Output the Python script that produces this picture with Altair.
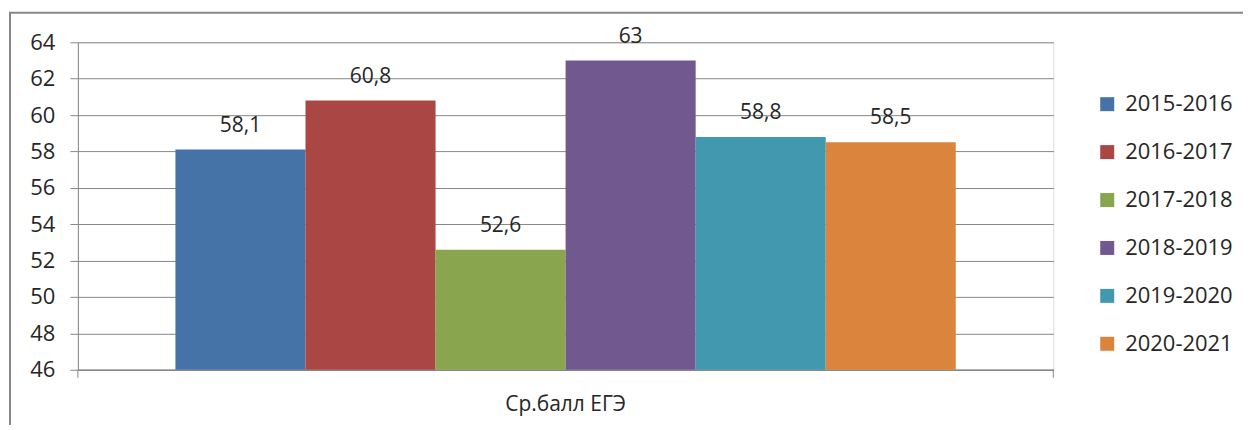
import altair as alt
import pandas as pd

years = ["2015-2016", "2016-2017", "2017-2018", "2018-2019", "2019-2020", "2020-2021"]
values = [58.1, 60.8, 52.6, 63, 58.8, 58.5]
category = "Ср.балл ЕГЭ"
colors = ["#4572A7", "#AA4643", "#89A54E", "#71588F", "#4198AF", "#DB843D"]
y_ticks = [46, 48, 50, 52, 54, 56, 58, 60, 62, 64]
y_min, y_max = 46, 64

FONT = "Open Sans"
TXT = "#262626"
GRAY = "#888888"
W, H = 977, 328

df = pd.DataFrame({
    "cat": [category] * len(years),
    "year": years,
    "value": values,
    "label": [str(v).replace(".", ",") for v in values],
})

x = alt.X("cat:N", scale=alt.Scale(paddingInner=0, paddingOuter=0.125),
          axis=alt.Axis(title=None, labelAngle=0, ticks=False, domainColor=GRAY,
                        domainWidth=1.5, labelFont=FONT, labelFontSize=21,
                        labelColor=TXT, labelPadding=24))
xo = alt.XOffset("year:N", sort=years, scale=alt.Scale(paddingInner=0, paddingOuter=0))
y = alt.Y("value:Q", scale=alt.Scale(domain=[y_min, y_max], nice=False, zero=False),
          axis=alt.Axis(title=None, values=y_ticks, grid=True, gridColor=GRAY,
                        gridWidth=1, tickSize=8, tickColor=GRAY, domainColor=GRAY,
                        labelFont=FONT, labelFontSize=22, labelColor=TXT,
                        labelPadding=15))

base = alt.Chart(df)

bars = base.mark_bar().encode(
    x=x, xOffset=xo, y=y, y2=alt.Y2(datum=y_min),
    color=alt.Color("year:N", sort=years,
                    scale=alt.Scale(domain=years, range=colors),
                    legend=alt.Legend(orient="none", legendX=1020, legendY=51,
                                      title=None, symbolType="square",
                                      symbolSize=196, symbolStrokeWidth=0,
                                      labelFont=FONT, labelFontSize=22,
                                      labelColor=TXT, rowPadding=26,
                                      labelOffset=7)),
)

labels = base.mark_text(font=FONT, fontSize=21, color=TXT, baseline="alphabetic",
                        dy=-18).encode(
    x=x, xOffset=xo, y=y, text="label:N")

frame_df = pd.DataFrame({"k": [0]})
frame = alt.Chart(frame_df).mark_rect(fillOpacity=0, stroke=GRAY, strokeWidth=2).encode(
    x=alt.value(-68), x2=alt.value(3000), y=alt.value(-29.5), y2=alt.value(3000))

tick_l = alt.Chart(frame_df).mark_rule(color=GRAY, strokeWidth=1).encode(
    x=alt.value(0), y=alt.value(H), y2=alt.value(H + 8))
tick_r = alt.Chart(frame_df).mark_rule(color=GRAY, strokeWidth=1).encode(
    x=alt.value(W), y=alt.value(H), y2=alt.value(H + 8))

chart = alt.layer(bars, labels, tick_l, tick_r, frame).properties(
    width=W, height=H,
    autosize=alt.AutoSizeParams(type="none"),
    padding={"left": 70, "top": 34, "right": 190, "bottom": 55},
).configure_view(stroke=None).configure(background="white")

chart.save("out.html", embed_options={"renderer": "svg", "actions": False})
